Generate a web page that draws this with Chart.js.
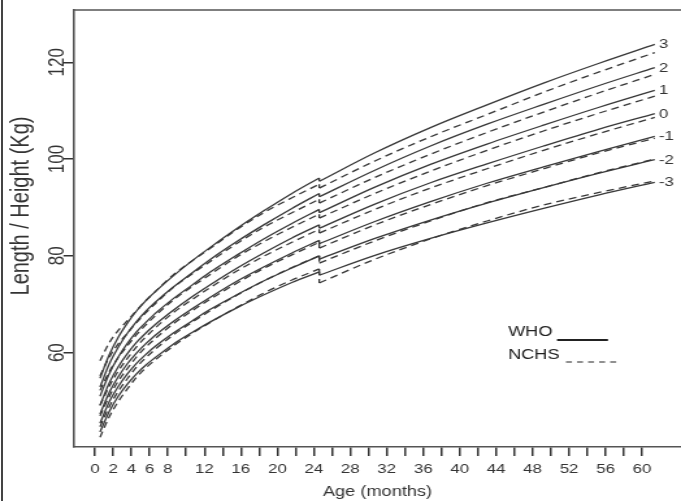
<!DOCTYPE html>
<html><head><meta charset="utf-8">
<script src="https://cdn.jsdelivr.net/npm/chart.js@4"></script>
<style>
html,body{margin:0;padding:0;background:#fff;overflow:hidden;}
#page{position:relative;width:681px;height:501px;overflow:hidden;}
#wrap{position:absolute;left:0;top:0;width:524px;height:501px;transform:scaleX(1.29962);transform-origin:0 0;}
#frame{position:absolute;left:1px;top:0;width:2px;height:501px;background:#444;}
</style></head><body>
<div id="page"><div id="wrap"><canvas id="c" width="524" height="501" style="width:524px;height:501px"></canvas></div><div id="frame"></div></div>
<script>
// x positions of the curve points (axis units); the curve breaks at 24 months (length -> height)
const ageAxis = [0.55, 1.55, 2.55, 3.55, 4.55, 5.55, 6.55, 8.55, 10.6, 12.6, 15.6, 18.6, 21.6, 24.6, 24.6, 30.7, 36.8, 43.0, 49.2, 55.3, 61.4];
const breakIndex = 14;
const sdLabels = ['-3', '-2', '-1', '0', '1', '2', '3'];
// WHO (solid)
const whoNeg3 = [43.6, 47.8, 51.0, 53.5, 55.6, 57.4, 58.9, 61.7, 64.1, 66.3, 69.3, 72.0, 74.5, 76.7, 76.0, 80.1, 83.6, 86.8, 89.8, 92.6, 95.2];
const whoNeg2 = [45.4, 49.8, 53.0, 55.6, 57.8, 59.6, 61.2, 64.0, 66.5, 68.9, 72.0, 74.9, 77.5, 80.0, 79.3, 83.6, 87.4, 90.9, 94.1, 97.1, 99.9];
const whoNeg1 = [47.3, 51.7, 55.0, 57.7, 59.9, 61.8, 63.5, 66.4, 69.0, 71.4, 74.8, 77.8, 80.6, 83.2, 82.5, 87.1, 91.2, 95.0, 98.4, 101.6, 104.7];
const whoZero = [49.1, 53.7, 57.1, 59.8, 62.1, 64.0, 65.7, 68.7, 71.5, 74.0, 77.5, 80.7, 83.7, 86.4, 85.7, 90.7, 95.1, 99.0, 102.7, 106.2, 109.4];
const whoPos1 = [51.0, 55.6, 59.1, 61.9, 64.3, 66.2, 68.0, 71.1, 73.9, 76.6, 80.2, 83.6, 86.7, 89.6, 88.9, 94.2, 98.9, 103.1, 107.0, 110.7, 114.2];
const whoPos2 = [52.9, 57.6, 61.1, 64.0, 66.4, 68.5, 70.3, 73.5, 76.4, 79.2, 83.0, 86.5, 89.8, 92.9, 92.2, 97.7, 102.7, 107.2, 111.3, 115.2, 118.9];
const whoPos3 = [54.7, 59.5, 63.2, 66.1, 68.6, 70.7, 72.5, 75.8, 78.9, 81.7, 85.7, 89.4, 92.9, 96.1, 95.4, 101.3, 106.5, 111.2, 115.7, 119.8, 123.7];
// NCHS (dashed)
const nchsNeg3 = [42.5, 46.7, 49.9, 52.5, 54.9, 56.8, 58.4, 61.3, 63.9, 66.2, 69.4, 72.4, 75.0, 77.3, 74.4, 79.3, 83.5, 87.2, 90.5, 93.1, 95.5];
const nchsNeg2 = [44.7, 48.8, 52.0, 54.6, 57.0, 58.9, 60.6, 63.6, 66.2, 68.6, 71.9, 74.9, 77.6, 80.0, 78.5, 83.1, 87.2, 91.0, 94.1, 97.2, 100.0];
const nchsNeg1 = [46.9, 50.9, 54.1, 56.7, 59.1, 61.1, 62.8, 65.9, 68.6, 71.0, 74.4, 77.5, 80.2, 82.8, 81.6, 86.4, 90.6, 94.5, 98.0, 101.3, 104.3];
const nchsZero = [49.1, 53.0, 56.2, 58.8, 61.2, 63.2, 65.0, 68.2, 70.9, 73.4, 76.9, 80.0, 82.8, 85.5, 84.7, 89.6, 94.0, 98.0, 101.8, 105.3, 108.6];
const nchsPos1 = [52.2, 56.0, 59.0, 61.4, 63.7, 65.7, 67.5, 70.8, 73.6, 76.1, 79.8, 83.0, 85.9, 88.6, 87.8, 92.9, 97.5, 101.8, 105.8, 109.5, 113.0];
const nchsPos2 = [55.2, 59.0, 61.8, 64.0, 66.2, 68.2, 70.0, 73.4, 76.2, 78.8, 82.6, 86.0, 88.9, 91.7, 90.9, 96.2, 101.0, 105.5, 109.7, 113.7, 117.5];
const nchsPos3 = [58.3, 62.0, 64.6, 66.6, 68.7, 70.7, 72.5, 76.0, 78.9, 81.5, 85.5, 89.0, 92.0, 94.8, 94.0, 99.6, 104.6, 109.2, 113.8, 118.0, 122.0];
// axis ticks
const xTickValues = [0,2,4,6,8,10,12,14,16,18,20,22,24,26,28,30,32,34,36,38,40,42,44,46,48,50,52,54,56,58,60];
const xTickLabels = ['0','2','4','6','8','','12','','16','','20','','24','','28','','32','','36','','40','','44','','48','','52','','56','','60'];
const yTickValues = [60, 80, 100, 120];
const yTickLabels = ['60', '80', '100', '120'];
const yTitle = 'Length / Height (Kg)';
const xTitle = 'Age (months)';

const whoSeries = [whoNeg3, whoNeg2, whoNeg1, whoZero, whoPos1, whoPos2, whoPos3];
const nchsSeries = [nchsNeg3, nchsNeg2, nchsNeg1, nchsZero, nchsPos1, nchsPos2, nchsPos3];
const LINE = '#383838';
const FONT = '"Liberation Sans", Arial, sans-serif';

const pts = (arr, a, b) => ageAxis.slice(a, b).map((x, i) => ({x: x, y: arr[a + i]}));
const datasets = [];
const whoEnds = [];
function addCurve(arr, dash, name) {
  const base = {borderColor: LINE, borderWidth: 1.3, borderDash: dash, pointRadius: 0, cubicInterpolationMode: 'monotone', fill: false};
  datasets.push(Object.assign({label: name + ' length', data: pts(arr, 0, breakIndex)}, base));
  datasets.push(Object.assign({label: name + ' step', data: pts(arr, breakIndex - 1, breakIndex + 1)}, base));
  datasets.push(Object.assign({label: name + ' height', data: pts(arr, breakIndex, ageAxis.length)}, base));
  return datasets.length - 1;
}
whoSeries.forEach((s, i) => whoEnds.push(addCurve(s, [], 'WHO ' + sdLabels[i])));
nchsSeries.forEach((s, i) => addCurve(s, [6, 4], 'NCHS ' + sdLabels[i]));

const extras = {
  id: 'extras',
  afterDraw(chart) {
    const ctx = chart.ctx, ca = chart.chartArea, ys = chart.scales.y;
    ctx.save();
    ctx.strokeStyle = '#555'; ctx.lineWidth = 1.6;
    ctx.beginPath(); ctx.moveTo(ca.left, ca.top); ctx.lineTo(ca.right + 2, ca.top); ctx.stroke();
    ctx.fillStyle = '#333';
    ctx.textAlign = 'center'; ctx.textBaseline = 'middle';
    // rotated y tick labels
    ctx.font = '17px ' + FONT;
    yTickValues.forEach((v, i) => {
      const py = ys.getPixelForValue(v);
      ctx.save(); ctx.translate(44.2, py); ctx.rotate(-Math.PI / 2); ctx.fillText(yTickLabels[i], 0, 0); ctx.restore();
    });
    // y title
    ctx.font = '20px ' + FONT;
    ctx.save(); ctx.translate(16.4, 206); ctx.rotate(-Math.PI / 2); ctx.fillText(yTitle, 0, 0); ctx.restore();
    // SD labels
    ctx.font = '13px ' + FONT;
    ctx.textAlign = 'left';
    whoEnds.forEach((di, i) => {
      const meta = chart.getDatasetMeta(di);
      const p = meta.data[meta.data.length - 1];
      ctx.fillText(sdLabels[i], p.x + 3.2, p.y + 0.5);
    });
    // legend
    ctx.font = '14px ' + FONT; ctx.fillStyle = '#222';
    ctx.fillText('WHO', 390.9, 332);
    ctx.fillText('NCHS', 390.9, 355);
    ctx.strokeStyle = '#222'; ctx.lineWidth = 2;
    ctx.beginPath(); ctx.moveTo(428.6, 340); ctx.lineTo(467.8, 340); ctx.stroke();
    ctx.lineWidth = 1.2; ctx.setLineDash([4.6, 3.9]);
    ctx.beginPath(); ctx.moveTo(435.5, 362); ctx.lineTo(474.8, 362); ctx.stroke();
    ctx.restore();
  }
};

new Chart(document.getElementById('c'), {
  type: 'line',
  data: {datasets: datasets},
  options: {
    responsive: false, animation: false, devicePixelRatio: 1,
    layout: {padding: {top: 10, right: 0, left: 0, bottom: 0}},
    plugins: {legend: {display: false}, tooltip: {enabled: false}},
    scales: {
      x: {
        type: 'linear', min: -2.295, max: 64.28,
        afterFit(s) { s.height = 54; },
        afterBuildTicks(s) { s.ticks = xTickValues.map(v => ({value: v})); },
        grid: {drawOnChartArea: false, drawTicks: true, tickLength: 9, color: '#333', lineWidth: 1.5},
        border: {display: true, color: '#555', width: 1.6},
        ticks: {autoSkip: false, maxRotation: 0, minRotation: 0, padding: 6, color: '#333', font: {family: FONT, size: 13},
          callback: (v) => { const i = xTickValues.indexOf(v); return i >= 0 ? xTickLabels[i] : ''; }},
        title: {display: true, text: xTitle, color: '#333', font: {family: FONT, size: 14}, padding: {top: 0, bottom: 0}}
      },
      y: {
        type: 'linear', min: 40.5, max: 130.8,
        afterFit(s) { s.width = 57; },
        afterBuildTicks(s) { s.ticks = yTickValues.map(v => ({value: v})); },
        grid: {drawOnChartArea: false, drawTicks: true, tickLength: 8.2, color: '#333', lineWidth: 1.5},
        border: {display: true, color: '#555', width: 1.6},
        ticks: {display: false},
        title: {display: false}
      }
    }
  },
  plugins: [extras]
});
</script>
</body></html>
